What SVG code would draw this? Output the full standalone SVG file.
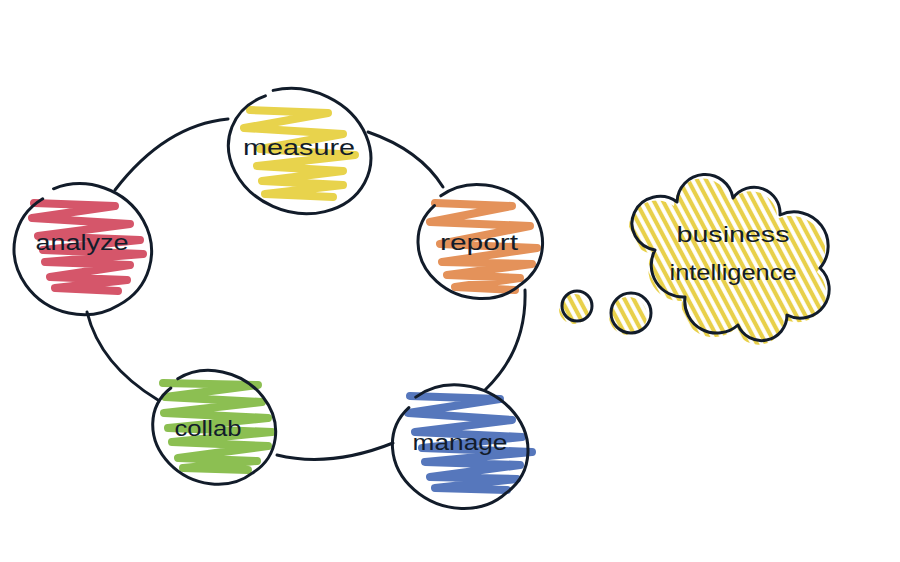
<svg xmlns="http://www.w3.org/2000/svg" width="900" height="562" viewBox="0 0 900 562">
<style>
.ring{fill:none;stroke:#121c2a;stroke-width:3;stroke-linecap:round;stroke-linejoin:round}
.zig{fill:none;stroke-width:8;stroke-linecap:round;stroke-linejoin:round}
.lbl{font-family:"Liberation Sans",Arial,sans-serif;font-size:22px;fill:#121c2a;text-anchor:middle}
</style>
<defs>
<pattern id="hatch" patternUnits="userSpaceOnUse" width="8" height="8" patternTransform="rotate(-28)">
<line x1="3" y1="0" x2="3" y2="8" stroke="#e8d04a" stroke-width="4.2"/>
</pattern>
<path id="cloudShape" d="M655,250 A28,27 0 1 1 677,202 A28.2,28.2 0 0 1 733,198 A26,26 0 0 1 780,215 A34,34 0 0 1 820,268 A29,29 0 0 1 787,315 A25.5,25.5 0 0 1 738,325 A32,32 0 0 1 685,297 A32,32 0 0 1 655,250 Z"/>
<clipPath id="cloudClip"><use href="#cloudShape" transform="translate(-3,4)"/></clipPath>
<clipPath id="b1Clip"><circle cx="574" cy="309" r="15"/></clipPath>
<clipPath id="b2Clip"><circle cx="628" cy="316" r="19"/></clipPath>
</defs>
<rect width="900" height="562" fill="#ffffff"/>

<g id="connectors">
<path class="ring" d="M115,190 Q165,125 228,119"/>
<path class="ring" d="M368,132 Q420,150 443,187"/>
<path class="ring" d="M525,290 Q527,350 485,390"/>
<path class="ring" d="M393,443 Q330,468 277,455"/>
<path class="ring" d="M158,400 Q100,365 87,312"/>
</g>

<g id="measure">
<path class="zig" stroke="#e8d34c" d="M250,110 L328,113 L244,128 L343,134 L260,149 L355,155 L257,166 L343,171 L262,181 L343,185 L265,194 L333,197"/>
<path class="ring" transform="translate(299 151) rotate(20)" d="M-45,-48.1 A73,61 0 0 1 45,48.1 A71.5,59.5 0 0 1 -50.4,-40.3"/>
<text class="lbl" x="299" y="155" textLength="112" lengthAdjust="spacingAndGlyphs">measure</text>
</g>

<g id="analyze">
<path class="zig" stroke="#d5566a" d="M34,203 L115,206 L32,218 L130,224 L38,236 L140,240 L43,250 L143,254 L45,262 L130,265 L50,277 L127,280 L55,288 L118,291"/>
<path class="ring" transform="translate(86 247) rotate(20)" d="M-50.4,-43.6 A69,64 0 0 1 50.4,43.6 A67,62 0 0 1 -57.2,-30.5"/>
<text class="lbl" x="82" y="250" textLength="93" lengthAdjust="spacingAndGlyphs">analyze</text>
</g>

<g id="report">
<path class="zig" stroke="#e4925a" d="M435,203 L512,206 L430,222 L530,226 L440,244 L537,248 L442,262 L532,264 L447,275 L520,278 L455,287 L515,290"/>
<path class="ring" transform="translate(481 240) rotate(15)" d="M-50.2,-32.3 A62,55 0 0 1 50.2,32.3 A60,53 0 0 1 -53.9,-21.2"/>
<text class="lbl" x="479" y="250" textLength="78" lengthAdjust="spacingAndGlyphs">report</text>
</g>

<g id="collab">
<path class="zig" stroke="#8cbf52" d="M163,383 L258,385 L165,397 L262,402 L164,413 L268,418 L168,428 L272,432 L172,442 L268,446 L178,458 L257,461 L183,468 L248,470"/>
<path class="ring" transform="translate(215 426) rotate(25)" d="M-53.7,-27 A62,54 0 0 1 53.7,27 A60,52 0 0 1 -56.1,-15.8"/>
<text class="lbl" x="208" y="436" textLength="67" lengthAdjust="spacingAndGlyphs">collab</text>
</g>

<g id="manage">
<path class="zig" stroke="#5677bc" d="M410,396 L500,399 L408,413 L512,420 L415,432 L522,437 L422,448 L532,452 L425,462 L520,465 L430,477 L517,479 L435,488 L507,490"/>
<path class="ring" transform="translate(461 445) rotate(20)" d="M-58.9,-29.5 A68,59 0 0 1 58.9,29.5 A66,57 0 0 1 -61.8,-17.3"/>
<text class="lbl" x="460" y="450" textLength="95" lengthAdjust="spacingAndGlyphs">manage</text>
</g>

<g id="bubble1">
<rect x="555" y="290" width="40" height="40" fill="url(#hatch)" clip-path="url(#b1Clip)"/>
<circle class="ring" cx="577" cy="306" r="15"/>
</g>

<g id="bubble2">
<rect x="605" y="290" width="50" height="50" fill="url(#hatch)" clip-path="url(#b2Clip)"/>
<circle class="ring" cx="631" cy="313" r="20"/>
</g>

<g id="business-intelligence">
<rect x="620" y="165" width="230" height="190" fill="url(#hatch)" clip-path="url(#cloudClip)"/>
<use href="#cloudShape" class="ring"/>
<text class="lbl" x="733" y="242" textLength="113" lengthAdjust="spacingAndGlyphs">business</text>
<text class="lbl" x="733" y="280" textLength="127" lengthAdjust="spacingAndGlyphs">intelligence</text>
</g>
</svg>
